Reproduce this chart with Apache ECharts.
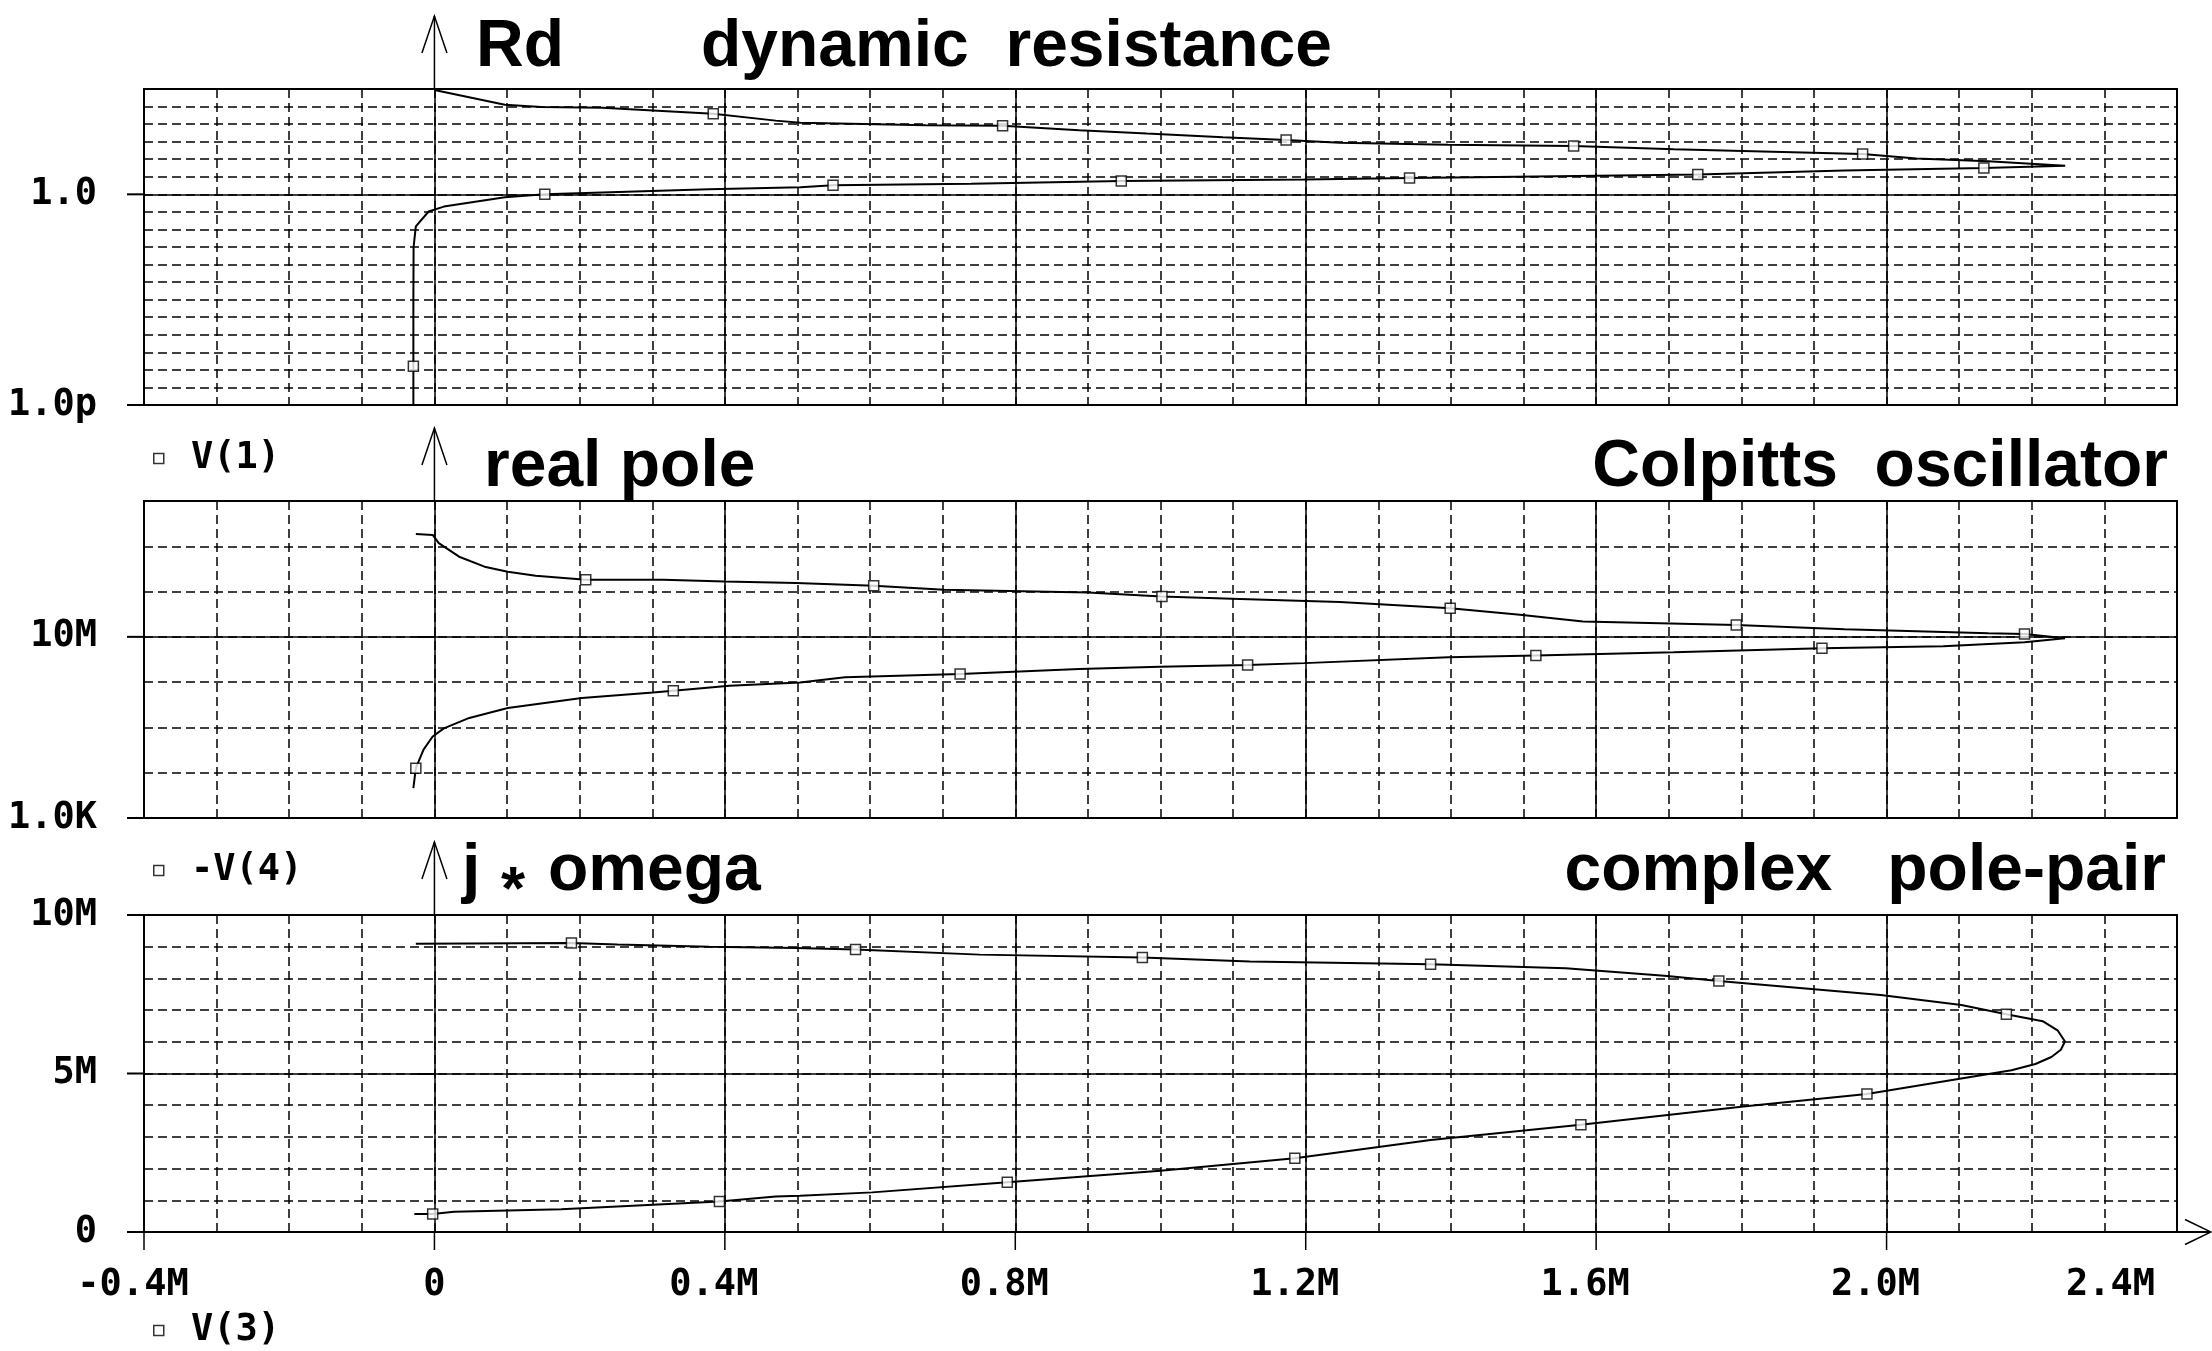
<!DOCTYPE html>
<html>
<head>
<meta charset="utf-8">
<title>Colpitts oscillator pole loci</title>
<script src="https://cdn.jsdelivr.net/npm/echarts@6/dist/echarts.min.js"></script>
<style>
html, body { margin: 0; padding: 0; background: #ffffff; }
#chart { width: 2212px; height: 1351px; }
</style>
</head>
<body>
<div id="chart"></div>
<script>
// ---------------- data ----------------
// shared x axis
const xMin = -400000, xMax = 2400000;
const xTickValues = [-400000, 0, 400000, 800000, 1200000, 1600000, 2000000, 2400000];
const xTickLabels = ['-0.4M', '0', '0.4M', '0.8M', '1.2M', '1.6M', '2.0M', '2.4M'];

// top plot: Rd dynamic resistance, trace V(1), log axis
const rdRange = [1e-12, 1e6];
const rdTickValues = [1e-12, 1];
const rdTickLabels = ['1.0p', '1.0'];
const rdX = [-29000, -29000, -29000, -28700, -25600, -8000, 13000, 97000, 152000, 231000, 378000, 504000, 549000, 739000, 946000, 1198000, 1343000, 1434000, 1740000, 1942000, 2134000, 2246000, 2140000, 2041000, 1967000, 1843000, 1707000, 1569000, 1396000, 1247000, 1173000, 1086000, 981000, 888000, 782500, 677000, 504000, 470000, 384000, 301000, 231000, 147000, 97000, 0];
const rdY = [4e-14, 1.6e-10, 1e-6, 1e-3, 0.0148, 0.105, 0.2, 0.676, 1.0, 1.26, 1.95, 2.51, 3.31, 3.98, 5.75, 7.08, 8.51, 9.33, 13.5, 22.9, 31.6, 42.7, 77.6, 110, 200, 269, 372, 562, 661, 871, 1260, 1780, 2880, 4470, 7940, 8710, 12000, 15800, 38900, 60300, 85100, 93300, 126000, 871000];
const rdMarkX = [-29000, 152000, 549000, 946000, 1343000, 1740000, 2134000, 1967000, 1569000, 1173000, 782500, 384000];
const rdMarkY = [1.6e-10, 1.0, 3.31, 5.75, 8.51, 13.5, 31.6, 200, 562, 1260, 7940, 38900];

// middle plot: real pole, trace -V(4), log axis
const poleRange = [1e3, 1e10];
const poleTickValues = [1e3, 1e7];
const poleTickLabels = ['1.0K', '10M'];
const poleX = [-29000, -25600, -15000, -2400, 13000, 48000, 101000, 203000, 301000, 329000, 406500, 503500, 565500, 724000, 888000, 999000, 1120000, 1198000, 1396500, 1517000, 1706500, 1911000, 2078000, 2190000, 2245700, 2190000, 2140000, 2029000, 1942000, 1793000, 1582000, 1495000, 1399000, 1247000, 1098000, 1002000, 900000, 702000, 605000, 498000, 400000, 315000, 208400, 139500, 101000, 69000, 34000, 6000, -2400, -25600];
const poleY = [4570, 12600, 32400, 63000, 95500, 162000, 269000, 447000, 589000, 646000, 832000, 977000, 1.29e6, 1.51e6, 1.95e6, 2.19e6, 2.4e6, 2.63e6, 3.55e6, 3.89e6, 4.57e6, 5.62e6, 6.17e6, 7.59e6, 9.3e6, 1.15e7, 1.2e7, 1.35e7, 1.48e7, 1.82e7, 2.19e7, 3.09e7, 4.27e7, 5.89e7, 6.92e7, 7.76e7, 9.55e7, 1.1e8, 1.35e8, 1.55e8, 1.66e8, 1.82e8, 1.82e8, 2.24e8, 2.75e8, 3.55e8, 5.89e8, 1.17e9, 1.78e9, 1.86e9];
const poleMarkX = [-25600, 329000, 724000, 1120000, 1517000, 1911000, 2190000, 1793000, 1399000, 1002000, 605000, 208400];
const poleMarkY = [12600, 646000, 1.51e6, 2.4e6, 3.89e6, 5.62e6, 1.15e7, 1.82e7, 4.27e7, 7.76e7, 1.35e8, 1.82e8];

// bottom plot: j*omega, complex pole-pair, trace V(3), linear axis
const omegaRange = [0, 1e7];
const omegaTickValues = [0, 5e6, 1e7];
const omegaTickLabels = ['0', '5M', '10M'];
const omegaX = [-27700, -2400, 27000, 174600, 301000, 392500, 470000, 503500, 603000, 789000, 1000000, 1185000, 1372000, 1579000, 1806000, 1973000, 2128000, 2172000, 2205000, 2227000, 2240000, 2245700, 2236000, 2215000, 2165000, 2103000, 1992000, 1769000, 1694000, 1558000, 1372000, 1123000, 975000, 751000, 580000, 498000, 378500, 252000, 188700, -25600];
const omegaY = [0.57e6, 0.57e6, 0.64e6, 0.72e6, 0.86e6, 0.96e6, 1.12e6, 1.14e6, 1.25e6, 1.57e6, 1.93e6, 2.33e6, 2.90e6, 3.38e6, 3.97e6, 4.35e6, 4.94e6, 5.10e6, 5.3e6, 5.52e6, 5.75e6, 6.01e6, 6.35e6, 6.65e6, 6.87e6, 7.16e6, 7.48e6, 7.92e6, 8.08e6, 8.32e6, 8.45e6, 8.53e6, 8.66e6, 8.75e6, 8.91e6, 8.96e6, 9.0e6, 9.07e6, 9.12e6, 9.09e6];
const omegaMarkX = [-2400, 392500, 789000, 1185000, 1579000, 1973000, 2165000, 1769000, 1372000, 975000, 580000, 188700];
const omegaMarkY = [0.57e6, 0.96e6, 1.57e6, 2.33e6, 3.38e6, 4.35e6, 6.87e6, 7.92e6, 8.45e6, 8.66e6, 8.91e6, 9.12e6];

// ---------------- chart construction ----------------
const lg = v => Math.log10(v);
const ident = v => v;
const MONO = { fontFamily: 'DejaVu Sans Mono', fontSize: 37, fontWeight: 'bold', color: '#000' };
const TITLE = { fontFamily: 'Liberation Sans', fontWeight: 'bold', fontSize: 66, color: '#000' };
const DASH = { color: '#000', width: 1.5, type: [9, 5] };
const SOLID = { color: '#000', width: 1.5, type: 'solid' };

const panels = [
  { name: 'V(1)', xs: rdX, ys: rdY, mx: rdMarkX, my: rdMarkY, tv: rdTickValues, tl: rdTickLabels, range: rdRange, f: lg, step: 1, top: 89, height: 316, legendTop: 440 },
  { name: '-V(4)', xs: poleX, ys: poleY, mx: poleMarkX, my: poleMarkY, tv: poleTickValues, tl: poleTickLabels, range: poleRange, f: lg, step: 1, top: 501, height: 317, legendTop: 852 },
  { name: 'V(3)', xs: omegaX, ys: omegaY, mx: omegaMarkX, my: omegaMarkY, tv: omegaTickValues, tl: omegaTickLabels, range: omegaRange, f: ident, step: 1e6, top: 915, height: 317, legendTop: 1312 }
];

const grid = [], xAxis = [], yAxis = [], series = [], legend = [];
panels.forEach((p, gi) => {
  const last = gi === panels.length - 1;
  grid.push({ left: 144, right: 35, top: p.top, height: p.height, show: true, borderColor: '#000', borderWidth: 2, backgroundColor: 'transparent' });
  // minor (dashed) vertical grid
  xAxis.push({ type: 'value', gridIndex: gi, position: 'bottom', min: xMin, max: xMax, interval: 100000,
    axisLine: { show: false }, axisTick: { show: false }, axisLabel: { show: false },
    splitLine: { show: true, lineStyle: DASH } });
  // major (solid) vertical grid + labels on the bottom plot
  xAxis.push({ type: 'value', gridIndex: gi, position: 'bottom', min: xMin, max: xMax, interval: 400000,
    axisLine: { show: false },
    axisTick: { show: false },
    axisLabel: { show: last, margin: 35, alignMaxLabel: 'right', ...MONO,
      formatter: v => {
        const i = xTickValues.findIndex(t => Math.abs(t - v) < 1);
        const s = i >= 0 ? xTickLabels[i] : '';
        return s === '0' ? '{z|0}' : '{m|' + s + '}';
      },
      rich: { z: { ...MONO }, m: { ...MONO, padding: [0, 22, 0, 0] } } },
    splitLine: { show: true, lineStyle: SOLID } });
  const tvt = p.tv.map(p.f);
  const ymin = p.f(p.range[0]), ymax = p.f(p.range[1]);
  // minor (dashed) horizontal grid
  yAxis.push({ type: 'value', gridIndex: gi, position: 'left', min: ymin, max: ymax, interval: p.step,
    axisLine: { show: false }, axisTick: { show: false }, axisLabel: { show: false },
    splitLine: { show: true, lineStyle: DASH } });
  // labelled (solid) horizontal lines and labels
  yAxis.push({ type: 'value', gridIndex: gi, position: 'left', min: ymin, max: ymax, interval: p.step,
    axisLine: { show: false },
    axisTick: { show: true, inside: false, length: 17, lineStyle: { color: '#000', width: 2 }, customValues: tvt },
    axisLabel: { show: true, margin: 47, customValues: tvt, ...MONO,
      formatter: v => {
        const i = tvt.findIndex(t => Math.abs(t - v) < 1e-6 * Math.max(1, Math.abs(t)));
        return i >= 0 ? p.tl[i] : '';
      } },
    splitLine: { show: true, lineStyle: SOLID } });
  series.push({ type: 'line', name: p.name + ' trace', xAxisIndex: 2 * gi, yAxisIndex: 2 * gi,
    data: p.xs.map((x, i) => [x, p.f(p.ys[i])]),
    showSymbol: false, symbol: 'none', clip: true, silent: true,
    lineStyle: { color: '#000', width: 2 }, z: 3 });
  series.push({ type: 'scatter', name: p.name, xAxisIndex: 2 * gi, yAxisIndex: 2 * gi,
    data: p.mx.map((x, i) => [x, p.f(p.my[i])]),
    symbol: 'rect', symbolSize: 10, silent: true, z: 5,
    itemStyle: { color: '#fff', borderColor: '#000', borderWidth: 1.5 } });
  legend.push({ data: [p.name], left: 153, top: p.legendTop, icon: 'rect', itemWidth: 10, itemHeight: 10,
    selectedMode: false, padding: 0, formatter: n => ' ' + n, textStyle: { ...MONO },
    itemStyle: { color: '#fff', borderColor: '#000', borderWidth: 1.5 } });
});

const titles = [
  { text: 'Rd', left: 476, top: 15 },
  { text: 'dynamic  resistance', left: 701, top: 15 },
  { text: 'real pole', left: 484, top: 435 },
  { text: 'Colpitts  oscillator', right: 44, top: 435 },
  { text: 'j', left: 462, top: 839 },
  { text: '*', left: 501, top: 861, size: 62 },
  { text: 'omega', left: 548, top: 839 },
  { text: 'complex   pole-pair', right: 46, top: 839 }
].map(t => {
  const o = { text: t.text, top: t.top, padding: 0, textStyle: { ...TITLE, fontSize: t.size || TITLE.fontSize } };
  if (t.left != null) o.left = t.left; else o.right = t.right;
  return o;
});

const chart = echarts.init(document.getElementById('chart'), null, { renderer: 'canvas', width: 2212, height: 1351 });
chart.setOption({
  animation: false,
  backgroundColor: '#ffffff',
  textStyle: { fontFamily: 'DejaVu Sans Mono' },
  title: titles,
  legend: legend,
  grid: grid,
  xAxis: xAxis,
  yAxis: yAxis,
  series: series
});

// decorations positioned from the library's own scales: axis arrows and tick stubs
const graphic = [];
const seg = (pts, w) => ({ type: 'polyline', silent: true, z: 10, shape: { points: pts }, style: { stroke: '#000', lineWidth: w || 1.5, fill: 'none' } });
panels.forEach((p, gi) => {
  const x0 = chart.convertToPixel({ xAxisIndex: 2 * gi }, 0);
  const xL = chart.convertToPixel({ xAxisIndex: 2 * gi }, xMin);
  const yTop = chart.convertToPixel({ yAxisIndex: 2 * gi }, p.f(p.range[1]));
  const tip = yTop - 73;
  graphic.push(seg([[x0, yTop], [x0, tip]]));
  graphic.push(seg([[x0 - 12.5, tip + 37], [x0, tip], [x0 + 12.5, tip + 37]]));
  // stubs extending the labelled horizontal lines to the left
  p.tv.forEach(v => {
    const y = chart.convertToPixel({ yAxisIndex: 2 * gi }, p.f(v));
    graphic.push(seg([[xL - 17, y], [xL, y]], 2));
  });
});
const gl = panels.length - 1;
const xR = chart.convertToPixel({ xAxisIndex: 2 * gl }, xMax);
const yB = chart.convertToPixel({ yAxisIndex: 2 * gl }, panels[gl].f(panels[gl].range[0]));
// stubs below the x axis at labelled positions (not at the right border)
xTickValues.slice(0, -1).forEach(v => {
  const x = chart.convertToPixel({ xAxisIndex: 2 * gl }, v);
  graphic.push(seg([[x, yB], [x, yB + 18]], 1.5));
});
graphic.push(seg([[xR, yB], [xR + 34, yB]], 2));
graphic.push(seg([[xR + 8, yB - 12.5], [xR + 34, yB], [xR + 8, yB + 12.5]], 1.5));
chart.setOption({ graphic: graphic });
</script>
</body>
</html>
